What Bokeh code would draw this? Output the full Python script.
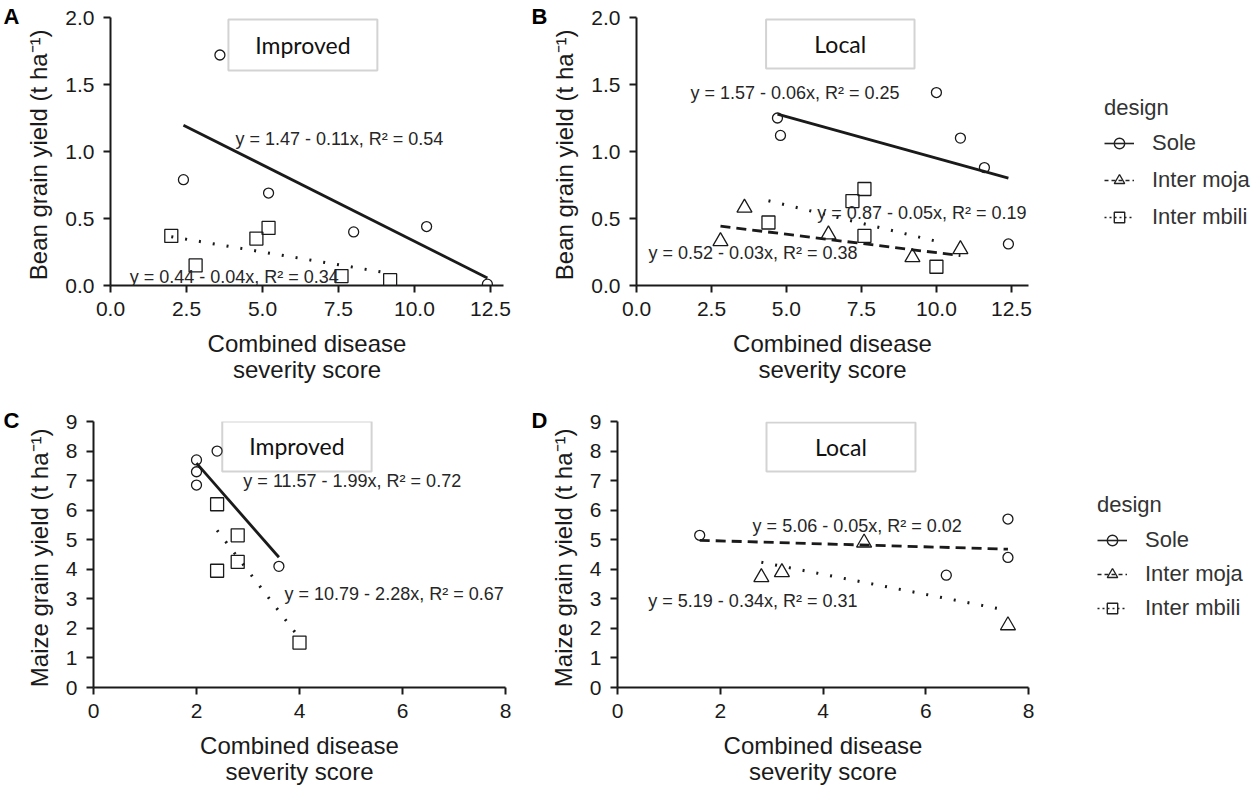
from bokeh.plotting import figure
from bokeh.layouts import row, column
from bokeh.models import (Label, BoxAnnotation, Legend, LegendItem, Range1d,
                          FixedTicker, PrintfTickFormatter, ColumnDataSource)
from bokeh.embed import file_html
from bokeh.resources import INLINE

# ---------------- data ----------------
# Panel A : bean grain yield, improved variety
a_sole_x = [2.4, 3.6, 5.2, 8.0, 10.4, 12.4]
a_sole_y = [0.79, 1.72, 0.69, 0.40, 0.44, 0.01]
a_mbili_x = [2.0, 2.8, 4.8, 5.2, 7.6, 9.2]
a_mbili_y = [0.37, 0.15, 0.35, 0.43, 0.07, 0.04]

# Panel B : bean grain yield, local variety
b_sole_x = [4.7, 4.8, 10.0, 10.8, 11.6, 12.4]
b_sole_y = [1.25, 1.12, 1.44, 1.10, 0.88, 0.31]
b_moja_x = [2.8, 3.6, 6.4, 9.2, 10.8]
b_moja_y = [0.33, 0.58, 0.38, 0.21, 0.27]
b_mbili_x = [4.4, 7.2, 7.6, 7.6, 10.0]
b_mbili_y = [0.47, 0.63, 0.72, 0.37, 0.14]

# Panel C : maize grain yield, improved variety
c_sole_x = [2.0, 2.0, 2.0, 2.4, 3.6]
c_sole_y = [7.7, 7.3, 6.85, 8.0, 4.1]
c_mbili_x = [2.4, 2.4, 2.8, 2.8, 4.0]
c_mbili_y = [6.2, 3.95, 5.15, 4.25, 1.52]

# Panel D : maize grain yield, local variety
d_sole_x = [1.6, 6.4, 7.6, 7.6]
d_sole_y = [5.15, 3.8, 5.7, 4.4]
d_moja_x = [2.8, 3.2, 4.8, 7.6]
d_moja_y = [3.73, 3.9, 4.9, 2.1]

# fitted lines: intercept, slope, x from, x to
a_fit_sole = [1.47, -0.114, 2.4, 12.4]
a_fit_mbili = [0.44, -0.038, 2.0, 9.2]
b_fit_sole = [1.57, -0.062, 4.7, 12.4]
b_fit_moja = [0.52, -0.0275, 2.8, 10.8]
b_fit_mbili = [0.87, -0.054, 4.4, 10.0]
c_fit_sole = [11.57, -1.99, 2.0, 3.6]
c_fit_mbili = [10.79, -2.28, 2.4, 3.95]
d_fit_dash = [5.06, -0.05, 1.6, 7.6]
d_fit_dot = [5.19, -0.34, 2.8, 7.6]

a_eq = ["y = 1.47 - 0.11x, R\u00b2 = 0.54", "y = 0.44 - 0.04x, R\u00b2 = 0.34"]
b_eq = ["y = 1.57 - 0.06x, R\u00b2 = 0.25", "y = 0.87 - 0.05x, R\u00b2 = 0.19",
        "y = 0.52 - 0.03x, R\u00b2 = 0.38"]
c_eq = ["y = 11.57 - 1.99x, R\u00b2 = 0.72", "y = 10.79 - 2.28x, R\u00b2 = 0.67"]
d_eq = ["y = 5.06 - 0.05x, R\u00b2 = 0.02", "y = 5.19 - 0.34x, R\u00b2 = 0.31"]

bean_xticks = [0.0, 2.5, 5.0, 7.5, 10.0, 12.5]
bean_yticks = [0.0, 0.5, 1.0, 1.5, 2.0]
maize_xticks = [0, 2, 4, 6, 8]
maize_yticks = [0, 1, 2, 3, 4, 5, 6, 7, 8, 9]
designs = ["Sole", "Inter moja", "Inter mbili"]
panel_letters = ["A", "B", "C", "D"]

FONT = "Liberation Sans"
INK = "#1a1a1a"
DASH = {"solid": "solid", "dashed": "10 6", "dotted": "2 12"}


def make_fig(width, height, bl, br, bt, bb, xr, yr, xticks, yticks, fmt, ylab,
             lab_stand, xstand, letter):
    p = figure(width=width, height=height, x_range=Range1d(*xr), y_range=Range1d(*yr),
               output_backend="svg", toolbar_location=None,
               min_border_left=bl, min_border_right=br, min_border_top=bt, min_border_bottom=bb)
    p.outline_line_color = None
    p.grid.visible = False
    p.background_fill_color = "white"
    p.border_fill_color = "white"
    for ax in (p.xaxis[0], p.yaxis[0]):
        ax.axis_line_width = 2
        ax.axis_line_color = INK
        ax.major_tick_line_width = 2
        ax.major_tick_line_color = INK
        ax.major_tick_in = 0
        ax.major_tick_out = 7
        ax.minor_tick_line_color = None
        ax.major_label_text_font = FONT
        ax.major_label_text_font_size = "21px"
        ax.major_label_text_color = INK
        ax.axis_label_text_font = FONT
        ax.axis_label_text_font_size = "24px"
        ax.axis_label_text_font_style = "normal"
        ax.axis_label_text_color = INK
        ax.axis_label_text_line_height = 0.97
    p.xaxis.ticker = FixedTicker(ticks=xticks)
    p.yaxis.ticker = FixedTicker(ticks=yticks)
    if fmt:
        p.xaxis.formatter = PrintfTickFormatter(format=fmt)
        p.yaxis.formatter = PrintfTickFormatter(format=fmt)
    p.xaxis.major_label_standoff = lab_stand
    p.yaxis.major_label_standoff = 9
    p.xaxis.axis_label = "Combined disease\nseverity score"
    p.xaxis.axis_label_standoff = xstand
    p.yaxis.axis_label = ylab
    p.yaxis.axis_label_standoff = 10
    # panel letter as the plot title, pulled into the top-left corner
    # (a blank first line with a small line height drops it a few pixels)
    p.title.text = "\n" + letter
    p.title.text_font = FONT
    p.title.text_font_size = "22px"
    p.title.text_font_style = "bold"
    p.title.text_color = "#000000"
    p.title.text_line_height = 0.62
    p.title.align = "left"
    p.title.vertical_align = "top"
    p.title.offset = -(bl - 3)
    p.title.standoff = -28
    return p


def points(p, xs, ys, kind):
    if kind == "Sole":
        p.scatter(xs, ys, marker="circle", size=10, fill_color=None, line_color=INK, line_width=1.3)
    elif kind == "Inter moja":
        p.scatter(xs, ys, marker="triangle", size=15, fill_color=None, line_color=INK, line_width=1.3)
    else:
        p.scatter(xs, ys, marker="square", size=13, fill_color=None, line_color=INK, line_width=1.3)


def fit(p, coef, style):
    b0, b1, x0, x1 = coef
    xs = [x0, x1]
    ys = [b0 + b1 * x for x in xs]
    p.line(xs, ys, line_color=INK, line_width=2.8 if style != "dotted" else 3,
           line_dash=DASH[style])


def eq(p, x, y, text):
    p.add_layout(Label(x=x, y=y, text=text, text_font=FONT, text_font_size="18px",
                       text_color="#262626", text_align="left", text_baseline="middle"))


def boxlabel(p, l, r, b, t, text):
    p.add_layout(BoxAnnotation(left=l, right=r, bottom=b, top=t, fill_alpha=0,
                               line_color="#6e6e6e", line_width=2))
    p.add_layout(Label(x=(l + r) / 2, y=(b + t) / 2, text=text, text_font="Lato",
                       text_font_size="23px", text_color="#111111",
                       text_align="center", text_baseline="middle"))


bean_lab = "Bean grain yield  (t ha\u207b\u00b9)"
maize_lab = "Maize grain yield  (t ha\u207b\u00b9)"

# ---- A ----
pa = make_fig(528, 400, 110, 25, 17, 115, (0, 12.93), (0, 2.0), bean_xticks, bean_yticks,
              "%.1f", bean_lab, 9, 11, panel_letters[0])
fit(pa, a_fit_sole, "solid")
fit(pa, a_fit_mbili, "dotted")
points(pa, a_sole_x, a_sole_y, "Sole")
points(pa, a_mbili_x, a_mbili_y, "Inter mbili")
eq(pa, 4.11, 1.09, a_eq[0])
eq(pa, 0.63, 0.06, a_eq[1])
boxlabel(pa, 3.88, 8.78, 1.604, 1.985, "Improved")

# ---- B ----
pb = make_fig(512, 400, 108, 12, 17, 115, (0, 13.07), (0, 2.0), bean_xticks, bean_yticks,
              "%.1f", bean_lab, 9, 11, panel_letters[1])
fit(pb, b_fit_sole, "solid")
fit(pb, b_fit_moja, "dashed")
fit(pb, b_fit_mbili, "dotted")
points(pb, b_sole_x, b_sole_y, "Sole")
points(pb, b_moja_x, b_moja_y, "Inter moja")
points(pb, b_mbili_x, b_mbili_y, "Inter mbili")
eq(pb, 1.8, 1.44, b_eq[0])
eq(pb, 6.03, 0.54, b_eq[1])
eq(pb, 0.4, 0.24, b_eq[2])
boxlabel(pb, 4.32, 9.27, 1.62, 1.985, "Local")

# ---- C ----
pc = make_fig(528, 387, 93, 23, 21, 98, (0, 8), (0, 9), maize_xticks, maize_yticks,
              None, maize_lab, 9, 11, panel_letters[2])
fit(pc, c_fit_sole, "solid")
fit(pc, c_fit_mbili, "dotted")
points(pc, c_sole_x, c_sole_y, "Sole")
points(pc, c_mbili_x, c_mbili_y, "Inter mbili")
eq(pc, 2.91, 6.97, c_eq[0])
eq(pc, 3.71, 3.16, c_eq[1])
boxlabel(pc, 2.5, 5.4, 7.31, 9.0, "Improved")

# ---- D ----
pd = make_fig(512, 387, 89, 12, 21, 98, (0, 8), (0, 9), maize_xticks, maize_yticks,
              None, maize_lab, 9, 11, panel_letters[3])
fit(pd, d_fit_dash, "dashed")
fit(pd, d_fit_dot, "dotted")
points(pd, d_sole_x, d_sole_y, "Sole")
points(pd, d_moja_x, d_moja_y, "Inter moja")
eq(pd, 2.63, 5.45, d_eq[0])
eq(pd, 0.6, 2.93, d_eq[1])
boxlabel(pd, 2.9, 5.8, 7.31, 8.97, "Local")


def legend_fig(height, bt, bb, loc, spacing):
    q = figure(width=211, height=height, x_range=Range1d(0, 1), y_range=Range1d(0, 1),
               output_backend="svg", toolbar_location=None,
               min_border_left=0, min_border_right=0, min_border_top=bt, min_border_bottom=bb)
    q.axis.visible = False
    q.grid.visible = False
    q.outline_line_color = None
    items = []
    styles = [("solid", "circle", 7), ("4 3", "triangle", 9), ("2 3", "square", 8)]
    for name, (dash, mk, sz) in zip(designs, styles):
        # legend-only renderers: their single segment lies outside the visible range
        src = ColumnDataSource(data=dict(x=[5, 6], y=[5, 6]))
        ln = q.line("x", "y", source=src, line_color="#222222", line_width=1.6, line_dash=dash)
        sc = q.scatter("x", "y", source=src, marker=mk, size=sz, fill_color=None,
                       line_color="#222222", line_width=1.4)
        items.append(LegendItem(label=name, renderers=[ln, sc]))
    lg = Legend(items=items, location=loc, title="design",
                title_text_font=FONT, title_text_font_size="22px", title_text_color="#333333",
                title_text_font_style="normal", title_standoff=9,
                label_text_font=FONT, label_text_font_size="22px", label_text_color="#333333",
                glyph_width=30, glyph_height=26, label_height=26, spacing=spacing,
                label_standoff=18, padding=4, margin=0,
                border_line_color=None, background_fill_alpha=0)
    q.add_layout(lg, "center")
    return q


lt = legend_fig(400, 17, 115, (64, 55), 11)
lb = legend_fig(387, 21, 98, (57, 66), 8)

layout = column(row(pa, pb, lt), row(pc, pd, lb))
open("out.html", "w").write(file_html(layout, INLINE))
